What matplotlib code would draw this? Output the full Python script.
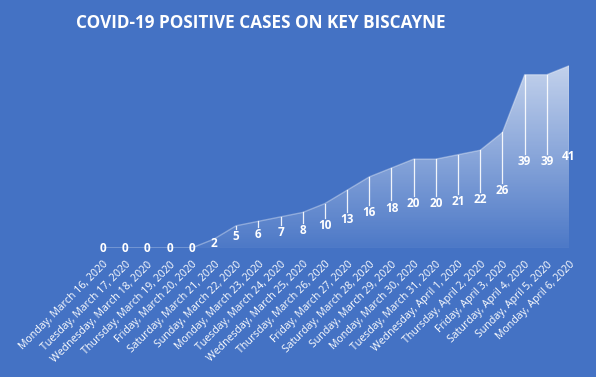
import numpy as np
import matplotlib.pyplot as plt
from matplotlib.path import Path
from matplotlib.patches import PathPatch

# data
dates = ["Monday, March 16, 2020", "Tuesday, March 17, 2020", "Wednesday, March 18, 2020",
         "Thursday, March 19, 2020", "Friday, March 20, 2020", "Saturday, March 21, 2020",
         "Sunday, March 22, 2020", "Monday, March 23, 2020", "Tuesday, March 24, 2020",
         "Wednesday, March 25, 2020", "Thursday, March 26, 2020", "Friday, March 27, 2020",
         "Saturday, March 28, 2020", "Sunday, March 29, 2020", "Monday, March 30, 2020",
         "Tuesday, March 31, 2020", "Wednesday, April 1, 2020", "Thursday, April 2, 2020",
         "Friday, April 3, 2020", "Saturday, April 4, 2020", "Sunday, April 5, 2020",
         "Monday, April 6, 2020"]
cases = [0, 0, 0, 0, 0, 2, 5, 6, 7, 8, 10, 13, 16, 18, 20, 20, 21, 22, 26, 39, 39, 41]

bg = '#4472C4'
plt.rcParams['font.family'] = ['Open Sans', 'DejaVu Sans']

fig = plt.figure(figsize=(5.96, 3.77), dpi=100, facecolor=bg)
ax = fig.add_axes([103/596, 129/377, 466/596, 200/377])
ax.set_facecolor(bg)

x = np.arange(len(cases))
y = np.array(cases, dtype=float)
ymax = 45
ax.set_xlim(0, len(cases) - 1)
ax.set_ylim(0, ymax)

# gradient fill under the curve (white fading to transparent)
top = max(cases)
grad = np.zeros((256, 1, 4))
grad[..., :3] = 1.0
yy = np.linspace(ymax, 0, 256)
grad[:, 0, 3] = np.clip(0.05 + 0.63 * yy / top, 0, 0.68)
im = ax.imshow(grad, extent=[0, len(cases) - 1, 0, ymax], aspect='auto',
               interpolation='bilinear', zorder=1)
verts = [(0, 0)] + list(zip(x, y)) + [(x[-1], 0), (0, 0)]
clip = PathPatch(Path(verts), facecolor='none', edgecolor='none', transform=ax.transData)
ax.add_patch(clip)
im.set_clip_path(clip)

ax.plot(x, y, color='white', lw=1, alpha=0.35, zorder=2)
ax.axhline(0, color='#8fa9dc', lw=0.8, zorder=2)

# drop lines + labels at middle of area
for xi, v in zip(x, cases):
    if v / 2 + 1.7 < v:
        ax.plot([xi, xi], [v / 2 + 1.7, v], color='white', lw=0.9, alpha=0.9, zorder=3)
    ax.text(xi, v / 2, str(v), color='white', fontsize=8.5, fontweight='bold',
            ha='center', va='center', zorder=4)

ax.set_xticks(x)
ax.set_xticklabels(dates, rotation=45, ha='right', rotation_mode='anchor',
                   color='white', fontsize=7.6)
ax.tick_params(axis='x', length=0, pad=8)
ax.set_yticks([])
for s in ax.spines.values():
    s.set_visible(False)

fig.text(261/596, 1 - 23/377, "COVID-19 POSITIVE CASES ON KEY BISCAYNE", color='white',
         fontsize=12.3, fontweight='bold', ha='center', va='center')

fig.savefig('out.png', dpi=100, facecolor=bg)
